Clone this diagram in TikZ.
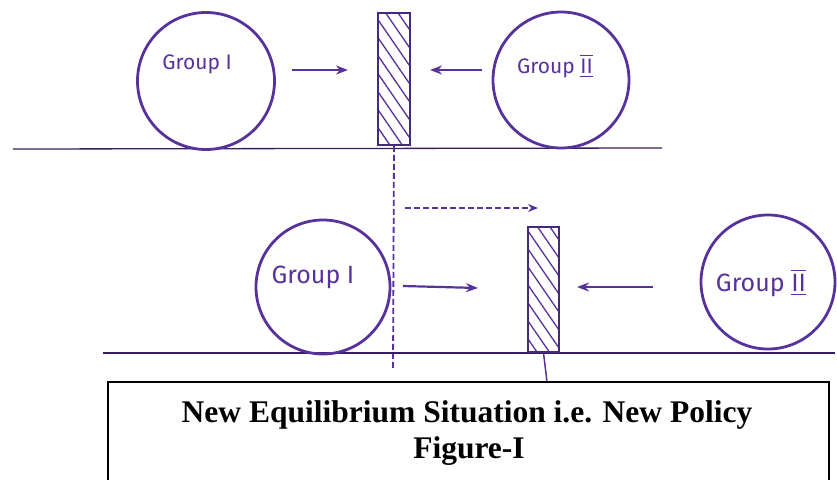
\documentclass[tikz,border=0pt]{standalone}
\usepackage{fontspec}
\setmainfont{Liberation Serif}
\newfontfamily\handfont{Fira Sans}
\usepackage{amsmath}
\usetikzlibrary{arrows.meta, positioning}

\definecolor{ink}{RGB}{88,50,155}

\begin{document}
\begin{tikzpicture}[
  x=1pt, y=-1pt,
  group/.style={draw=ink, circle, line width=2.8pt, minimum size=136pt, inner sep=0pt},
  hand/.style={font=\handfont\fontsize{21}{24}\selectfont, text=ink, inner sep=0pt},
  bighand/.style={font=\handfont\fontsize{25}{28}\selectfont, text=ink, inner sep=0pt},
  wall/.style={draw=ink!80!black, line width=1.6pt, minimum width=32pt, inner sep=0pt,
    path picture={\foreach \k in {-6,...,6}
      \draw[ink, line width=1.3pt] ([xshift=-22pt, yshift=\k*18pt+32pt]path picture bounding box.center)
        -- ([xshift=22pt, yshift=\k*18pt-32pt]path picture bounding box.center);}},
  push/.style={-{Stealth[length=12pt, width=9pt]}, line width=2.2pt, ink},
  ground/.style={line width=1.3pt, ink!60!black},
  guide/.style={dash pattern=on 6pt off 3pt, line width=1.8pt, ink},
  caption/.style={font=\bfseries\fontsize{31.5}{36}\selectfont, anchor=base, inner sep=0pt}
]
\useasboundingbox (0,0) rectangle (837,479);
\clip (0,0) rectangle (837,479);

% Old situation
\coordinate (topL) at (13,149);
\coordinate (topR) at (662,148);
\draw[ground] (topL) -- (topR);

\node[group, minimum size=137pt] (oldA) at (206,81) {};
\node[hand] (oldAtxt) at (197,64) {Group I};
\node[wall, minimum height=132pt] (oldwall) at (394,79) {};
\node[group] (oldB) at (561,80) {};
\node[hand] (oldBtxt) at (555,66) {Group $\overline{\underline{\mbox{II}}}$};

\coordinate (oldApush) at (292,70);
\coordinate (oldAhit) at (348,70);
\coordinate (oldBpush) at (482,70);
\coordinate (oldBhit) at (430,70);
\draw[push] (oldApush) -- (oldAhit);
\draw[push] (oldBpush) -- (oldBhit);

% Shift of the wall
\coordinate (guideend) at (393,368);
\draw[guide] (oldwall.south) -- (guideend);
\coordinate (shiftfrom) at (405,208);
\coordinate (shiftto) at (538,208);
\draw[guide, -{Stealth[length=10pt, width=8pt]}] (shiftfrom) -- (shiftto);

% New situation
\coordinate (lowL) at (103,353);
\coordinate (lowR) at (835,353);
\draw[ground] (lowL) -- (lowR);

\node[group, minimum size=134pt] (newA) at (323,287) {};
\node[bighand] (newAtxt) at (313,277) {Group I};
\node[wall, minimum width=31pt, minimum height=125pt] (newwall) at (543.5,289.5) {};
\node[group, minimum size=134pt] (newB) at (768,282) {};
\node[bighand] (newBtxt) at (761,283) {Group $\overline{\underline{\mbox{II}}}$};

\coordinate (newApush) at (403,286);
\coordinate (newAhit) at (478,288);
\coordinate (newBpush) at (653,287);
\coordinate (newBhit) at (577,287);
\draw[push] (newApush) -- (newAhit);
\draw[push] (newBpush) -- (newBhit);

\coordinate (tickend) at (547,382);
\draw[ink, line width=1.5pt] (newwall.south) -- (tickend);

% Caption box
\coordinate (boxNW) at (108,382);
\coordinate (boxSE) at (829,500);
\draw[line width=1.6pt] (boxNW) rectangle (boxSE);
\node[caption] (title) at (467,422) {New Equilibrium Situation i.e. New Policy};
\node[caption] (figno) at (469,458) {Figure-I};

\end{tikzpicture}
\end{document}
